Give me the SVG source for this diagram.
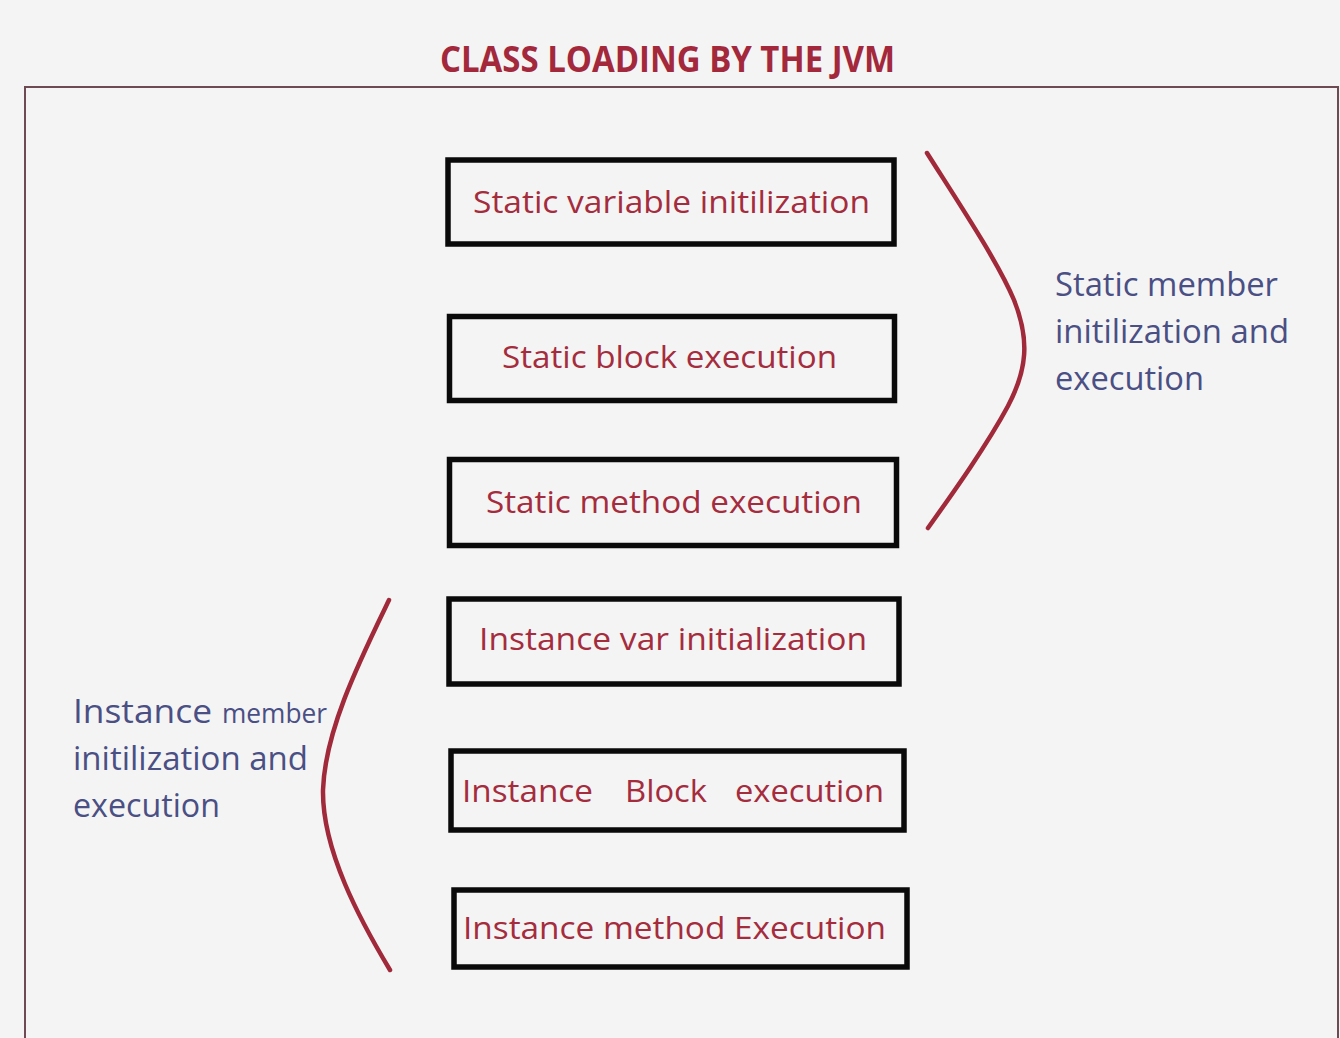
<svg xmlns="http://www.w3.org/2000/svg" width="1340" height="1038" viewBox="0 0 1340 1038">
  <style>
    .box { fill: none; stroke: #0a0a0a; stroke-width: 5.5; }
    .step { font-family: "Open Sans", "Liberation Sans", sans-serif; font-size: 31px; fill: #a52c3d; }
    .note { font-family: "Open Sans", "Liberation Sans", sans-serif; font-size: 32px; fill: #4a4f84; }
    .brace { fill: none; stroke: #a0293a; stroke-width: 4.5; stroke-linecap: round; }
  </style>
  <rect width="1340" height="1038" fill="#f4f4f4"/>

  <!-- title and frame -->
  <g id="title">
    <text x="440" y="72" textLength="455" lengthAdjust="spacingAndGlyphs" font-family="'Open Sans', 'Liberation Sans', sans-serif" font-size="35" font-weight="bold" fill="#a3283b">CLASS LOADING BY THE JVM</text>
  </g>
  <path id="frame" d="M25,1038 V87 H1338 V1038" fill="none" stroke="#6e4b53" stroke-width="2"/>

  <!-- loading steps -->
  <g id="static-var">
    <rect class="box" x="448" y="160" width="446" height="84"/>
    <text class="step" x="473" y="213" textLength="397" lengthAdjust="spacingAndGlyphs">Static variable initilization</text>
  </g>
  <g id="static-block">
    <rect class="box" x="449.5" y="316.5" width="445" height="84"/>
    <text class="step" x="502" y="368" textLength="335" lengthAdjust="spacingAndGlyphs">Static block execution</text>
  </g>
  <g id="static-method">
    <rect class="box" x="449.5" y="459.5" width="447" height="86"/>
    <text class="step" x="486" y="513" textLength="376" lengthAdjust="spacingAndGlyphs">Static method execution</text>
  </g>
  <g id="instance-var">
    <rect class="box" x="449" y="599" width="450" height="85"/>
    <text class="step" x="479" y="650" textLength="388" lengthAdjust="spacingAndGlyphs">Instance var initialization</text>
  </g>
  <g id="instance-block">
    <rect class="box" x="451" y="751" width="453" height="79"/>
    <text class="step" y="802"><tspan x="462" textLength="131" lengthAdjust="spacingAndGlyphs">Instance</tspan><tspan x="625" textLength="82" lengthAdjust="spacingAndGlyphs">Block</tspan><tspan x="735" textLength="149" lengthAdjust="spacingAndGlyphs">execution</tspan></text>
  </g>
  <g id="instance-method">
    <rect class="box" x="454" y="890" width="453" height="77"/>
    <text class="step" x="463" y="939" textLength="423" lengthAdjust="spacingAndGlyphs">Instance method Execution</text>
  </g>

  <!-- group braces -->
  <g id="connectors">
    <path class="brace" d="M927,153 C960,205 998,262 1014,300 C1030,340 1027,370 1008,406 C987,445 955,490 928,528"/>
    <path class="brace" d="M389,600 C360,660 325,730 323,790 C322,850 360,920 390,970"/>
  </g>

  <!-- group labels -->
  <g id="static-label">
    <text class="note" x="1055" y="296" textLength="223" lengthAdjust="spacingAndGlyphs">Static member</text>
    <text class="note" x="1055" y="343" textLength="234" lengthAdjust="spacingAndGlyphs">initilization and</text>
    <text class="note" x="1055" y="390" textLength="149" lengthAdjust="spacingAndGlyphs">execution</text>
  </g>
  <g id="instance-label">
    <text class="note" y="723"><tspan x="73" textLength="139" lengthAdjust="spacingAndGlyphs">Instance</tspan><tspan x="222" font-size="28" textLength="105" lengthAdjust="spacingAndGlyphs">member</tspan></text>
    <text class="note" x="73" y="770" textLength="235" lengthAdjust="spacingAndGlyphs">initilization and</text>
    <text class="note" x="73" y="817" textLength="147" lengthAdjust="spacingAndGlyphs">execution</text>
  </g>
</svg>
